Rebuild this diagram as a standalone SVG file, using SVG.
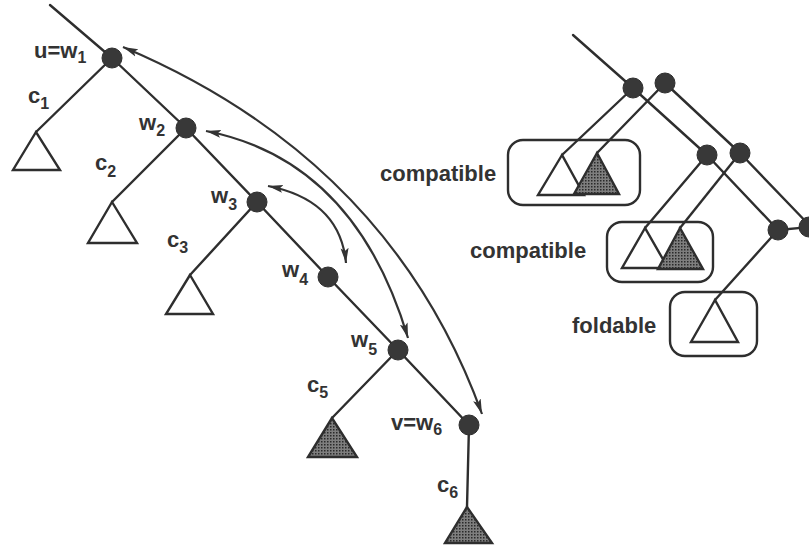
<svg xmlns="http://www.w3.org/2000/svg" width="809" height="551" viewBox="0 0 809 551">
<defs>
<pattern id="dots" width="3" height="3" patternUnits="userSpaceOnUse">
<rect width="3" height="3" fill="#7e7e7e"/>
<rect x="0" y="0" width="1.5" height="1.5" fill="#2a2a2a"/>
</pattern>
<marker id="ah" markerUnits="userSpaceOnUse" markerWidth="18" markerHeight="12" refX="15" refY="6" orient="auto-start-reverse">
<path d="M0,2 L15,6 L0,10 L3,6 z" fill="#333"/>
</marker>
</defs>
<style>
.e{stroke:#2e2e2e;stroke-width:2.4;fill:none;stroke-linecap:round}
.arc{stroke:#333;stroke-width:2.2;fill:none;marker-start:url(#ah);marker-end:url(#ah)}
.n{fill:#383838;stroke:#2e2e2e;stroke-width:1}
.t{fill:#fff;stroke:#2e2e2e;stroke-width:2.4;stroke-linejoin:miter}
.s{fill:url(#dots);stroke:#2e2e2e;stroke-width:2.4}
.box{fill:none;stroke:#2e2e2e;stroke-width:2.4}
text{font-family:"Liberation Sans",Arial,sans-serif;fill:#333;font-size:22px;font-weight:bold}
.sub{font-size:16px}
.lab{font-size:22px}
</style>
<rect width="809" height="551" fill="#fff"/>
<g id="connectors">
<line class="e" x1="50" y1="5" x2="112" y2="58"/>
<line class="e" x1="112" y1="58" x2="36" y2="132"/>
<line class="e" x1="112" y1="58" x2="186" y2="128"/>
<line class="e" x1="186" y1="128" x2="112" y2="202"/>
<line class="e" x1="186" y1="128" x2="257" y2="202"/>
<line class="e" x1="257" y1="202" x2="190" y2="275"/>
<line class="e" x1="257" y1="202" x2="328" y2="277"/>
<line class="e" x1="328" y1="277" x2="398" y2="350"/>
<line class="e" x1="398" y1="350" x2="332" y2="418"/>
<line class="e" x1="398" y1="350" x2="469" y2="425"/>
<line class="e" x1="469" y1="425" x2="467" y2="507"/>
<path class="arc" d="M123,47 Q390,160 482,414"/>
<path class="arc" d="M206,131 Q355,160 408,338"/>
<path class="arc" d="M268,186 Q340,200 346,263"/>
<line class="e" x1="573" y1="35" x2="633" y2="88"/>
<line class="e" x1="633" y1="88" x2="562" y2="155"/>
<line class="e" x1="633" y1="88" x2="707" y2="155"/>
<line class="e" x1="665" y1="83" x2="597" y2="153"/>
<line class="e" x1="665" y1="83" x2="740" y2="153"/>
<line class="e" x1="707" y1="155" x2="645" y2="228"/>
<line class="e" x1="707" y1="155" x2="778" y2="230"/>
<line class="e" x1="740" y1="153" x2="680" y2="228"/>
<line class="e" x1="740" y1="153" x2="812" y2="228"/>
<line class="e" x1="778" y1="230" x2="715" y2="300"/>
<line class="e" x1="778" y1="230" x2="810" y2="227"/>
</g>
<g id="w1"><circle class="n" cx="112" cy="58" r="10"/><text x="34" y="58">u=w<tspan class="sub" dy="5">1</tspan></text></g>
<g id="c1"><polygon class="t" points="36,132 13,170 60,170"/><text x="28" y="103">c<tspan class="sub" dy="6">1</tspan></text></g>
<g id="w2"><circle class="n" cx="186" cy="128" r="10"/><text x="139" y="130">w<tspan class="sub" dy="6">2</tspan></text></g>
<g id="c2"><polygon class="t" points="112,202 88,243 137,243"/><text x="95" y="170">c<tspan class="sub" dy="7">2</tspan></text></g>
<g id="w3"><circle class="n" cx="257" cy="202" r="10"/><text x="211" y="203">w<tspan class="sub" dy="7">3</tspan></text></g>
<g id="c3"><polygon class="t" points="190,275 166,314 213,314"/><text x="167" y="247">c<tspan class="sub" dy="6">3</tspan></text></g>
<g id="w4"><circle class="n" cx="328" cy="277" r="10"/><text x="282" y="277">w<tspan class="sub" dy="8">4</tspan></text></g>
<g id="w5"><circle class="n" cx="398" cy="350" r="10"/><text x="351" y="347">w<tspan class="sub" dy="8">5</tspan></text></g>
<g id="c5"><polygon class="s" points="332,418 308,457 357,457"/><text x="307" y="392">c<tspan class="sub" dy="6">5</tspan></text></g>
<g id="w6"><circle class="n" cx="469" cy="425" r="10"/><text x="391" y="430">v=w<tspan class="sub" dy="5">6</tspan></text></g>
<g id="c6"><polygon class="s" points="467,507 445,543 492,543"/><text x="437" y="492">c<tspan class="sub" dy="6">6</tspan></text></g>
<g id="nA"><circle class="n" cx="633" cy="88" r="10"/></g>
<g id="nB"><circle class="n" cx="665" cy="83" r="10"/></g>
<g id="nC"><circle class="n" cx="707" cy="155" r="10"/></g>
<g id="nD"><circle class="n" cx="740" cy="153" r="10"/></g>
<g id="nE"><circle class="n" cx="778" cy="230" r="10"/></g>
<g id="nF"><circle class="n" cx="809" cy="227" r="10"/></g>
<g id="box1">
<rect class="box" x="508" y="140" width="132" height="65" rx="15"/>
<polygon class="t" points="562,155 538,195 584,195"/>
<polygon class="s" points="597,153 574,194 619,194"/>
<text class="lab" x="380" y="181">compatible</text>
</g>
<g id="box2">
<rect class="box" x="607" y="222" width="106" height="60" rx="15"/>
<polygon class="t" points="645,228 622,268 668,268"/>
<polygon class="s" points="680,228 658,269 703,269"/>
<text class="lab" x="470" y="258">compatible</text>
</g>
<g id="box3">
<rect class="box" x="670" y="292" width="87" height="64" rx="15"/>
<polygon class="t" points="715,300 691,342 738,342"/>
<text class="lab" x="572" y="333">foldable</text>
</g>
</svg>
